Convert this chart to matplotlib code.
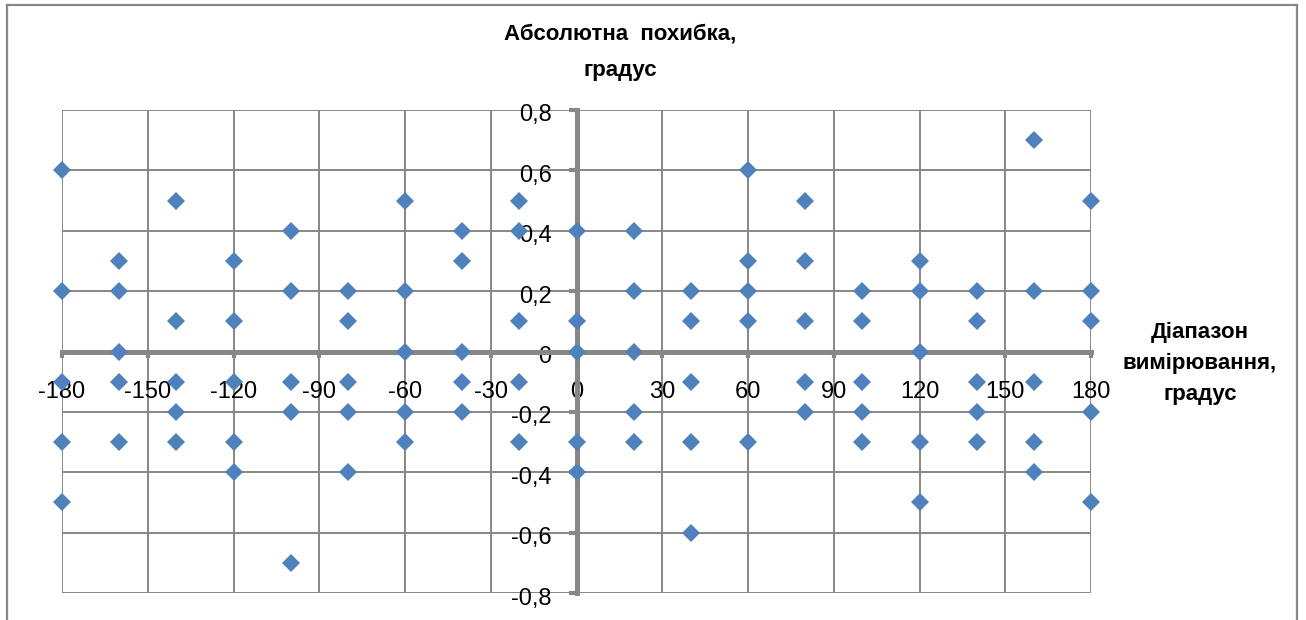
import matplotlib
matplotlib.use("Agg")
import matplotlib.pyplot as plt
from matplotlib.lines import Line2D
from matplotlib.transforms import ScaledTranslation

plt.rcParams['font.family'] = ['Liberation Sans', 'DejaVu Sans']

# Data: measurement range (degrees) and five error readings at each point
angles = [-180, -160, -140, -120, -100, -80, -60, -40, -20, 0,
          20, 40, 60, 80, 100, 120, 140, 160, 180]
err_1 = [0.6, 0.3, 0.5, 0.3, 0.4, 0.2, 0.5, 0.4, 0.5, 0.4,
         0.4, 0.2, 0.6, 0.5, 0.2, 0.3, 0.2, 0.7, 0.5]
err_2 = [0.2, 0.2, 0.1, 0.1, 0.2, 0.1, 0.2, 0.3, 0.4, 0.1,
         0.2, 0.1, 0.3, 0.3, 0.1, 0.2, 0.1, 0.2, 0.2]
err_3 = [-0.1, 0.0, -0.1, -0.1, -0.1, -0.1, 0.0, 0.0, 0.1, 0.0,
         0.0, -0.1, 0.2, 0.1, -0.1, 0.0, -0.1, -0.1, 0.1]
err_4 = [-0.3, -0.1, -0.2, -0.3, -0.2, -0.2, -0.2, -0.1, -0.1, -0.3,
         -0.2, -0.3, 0.1, -0.1, -0.2, -0.3, -0.2, -0.3, -0.2]
err_5 = [-0.5, -0.3, -0.3, -0.4, -0.7, -0.4, -0.3, -0.2, -0.3, -0.4,
         -0.3, -0.6, -0.3, -0.2, -0.3, -0.5, -0.3, -0.4, -0.5]

x_ticks = [-180, -150, -120, -90, -60, -30, 0, 30, 60, 90, 120, 150, 180]
y_ticks = [-0.8, -0.6, -0.4, -0.2, 0.0, 0.2, 0.4, 0.6, 0.8]
y_tick_labels = ['-0,8', '-0,6', '-0,4', '-0,2', '0', '0,2', '0,4', '0,6', '0,8']

title_text = 'Абсолютна  похибка,\nградус'
xlabel_text = 'Діапазон\nвимірювання,\nградус'

grid_col = '#878787'
marker_col = '#4F81BD'

fig = plt.figure(figsize=(13.06, 6.20), dpi=100)
ax = fig.add_axes([62/1306, 27/620, (1091-62)/1306, (593-110)/620])

for series in (err_1, err_2, err_3, err_4, err_5):
    ax.plot(angles, series, linestyle='none', marker='D', markersize=9.6,
            color=marker_col, markeredgewidth=0, zorder=5, clip_on=False)

ax.set_xlim(-180, 180)
ax.set_ylim(-0.8, 0.8)
ax.set_xticks(x_ticks)
ax.set_xticklabels([str(v) for v in x_ticks])
ax.set_yticks(y_ticks)
ax.set_yticklabels(y_tick_labels)

ax.grid(True, color=grid_col, linewidth=1.4, zorder=0)
ax.set_axisbelow(True)

for s in ('top', 'right'):
    ax.spines[s].set_visible(False)
ax.spines['bottom'].set_position(('data', 0))
ax.spines['left'].set_position(('data', 0))
for s in ('bottom', 'left'):
    ax.spines[s].set_color(grid_col)
    ax.spines[s].set_linewidth(3.6)
    ax.spines[s].set_zorder(3)

ax.tick_params(axis='x', direction='out', length=4, width=3, color=grid_col,
               labelsize=17, pad=17, labelcolor='black')
ax.tick_params(axis='y', direction='out', length=6, width=3, color=grid_col,
               labelsize=17, pad=12, labelcolor='black')
shift = ScaledTranslation(0, -3/100, fig.dpi_scale_trans)
for lab in ax.get_yticklabels():
    lab.set_transform(lab.get_transform() + shift)

fig.text(620/1306, 1 - 52/620, title_text, ha='center', va='center',
         fontsize=16, fontweight='bold', linespacing=1.95)
fig.text(1200/1306, 1 - 363/620, xlabel_text, ha='center', va='center',
         fontsize=16, fontweight='bold', linespacing=1.62)

# outer chart frame
fx0, fx1, fy1 = 7/1306, 1297/1306, 1 - 5/620
for xs, ys in (([fx0, fx0], [0, fy1]), ([fx0, fx1], [fy1, fy1]), ([fx1, fx1], [fy1, 0])):
    fig.add_artist(Line2D(xs, ys, color=grid_col, linewidth=1.6, transform=fig.transFigure))

fig.savefig('out.png', dpi=100)
